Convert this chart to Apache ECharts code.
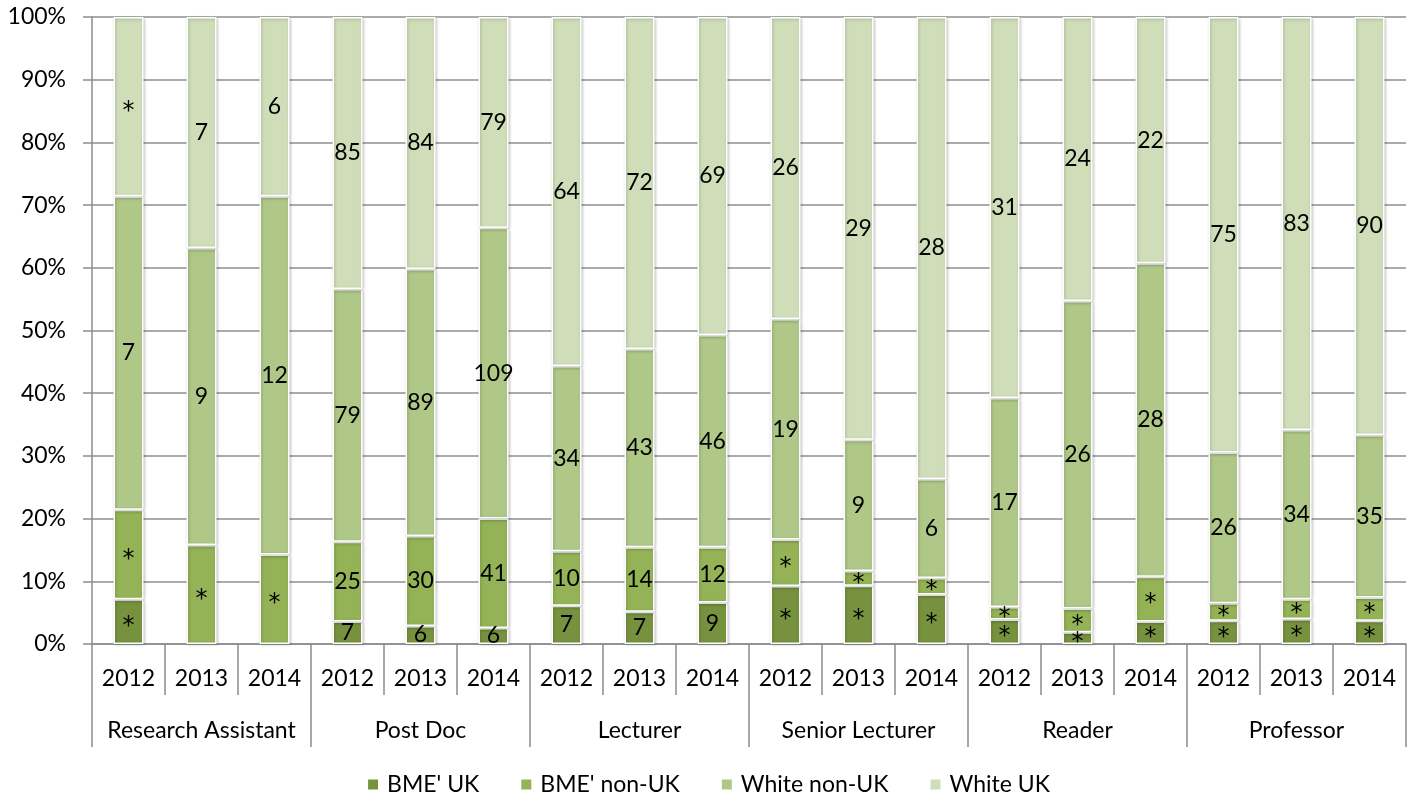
<!DOCTYPE html>
<html>
<head>
<meta charset="utf-8">
<script src="https://cdn.jsdelivr.net/npm/echarts@6/dist/echarts.min.js"></script>
<style>
  html, body { margin: 0; padding: 0; background: #fff; }
  #chart { width: 1416px; height: 800px; }
</style>
</head>
<body>
<div id="chart"></div>
<script>
// Staff headcounts by grade and year, split by ethnicity and nationality
const groups = ['Research Assistant', 'Post Doc', 'Lecturer', 'Senior Lecturer', 'Reader', 'Professor'];
const years = ['2012', '2013', '2014'];
const seriesNames = ["BME' UK", "BME' non-UK", 'White non-UK', 'White UK'];
const seriesColors = ['#77923f', '#94b356', '#afc787', '#cfddb8'];

const bmeUK       = [1, 0, 0,   7, 6, 6,     7, 7, 9,    5, 4, 3,    2, 1, 2,    4, 5, 5];
const bmeNonUK    = [2, 3, 3,   25, 30, 41,  10, 14, 12, 4, 1, 1,    1, 2, 4,    3, 4, 5];
const whiteNonUK  = [7, 9, 12,  79, 89, 109, 34, 43, 46, 19, 9, 6,   17, 26, 28, 26, 34, 35];
const whiteUK     = [4, 7, 6,   85, 84, 79,  64, 72, 69, 26, 29, 28, 31, 24, 22, 75, 83, 90];

// Counts below this are suppressed and shown as "*"
const SUPPRESS_BELOW = 6;

const yTicks = [0, 10, 20, 30, 40, 50, 60, 70, 80, 90, 100];

const countSets = [bmeUK, bmeNonUK, whiteNonUK, whiteUK];
const categories = [];
groups.forEach(() => years.forEach(y => categories.push(y)));
const totals = categories.map((_, i) => countSets.reduce((s, arr) => s + arr[i], 0));

const FONT = 'Lato, "Open Sans", sans-serif';
const FS = 23;
const AXIS_GREY = '#8c8c8c';

const series = countSets.map((counts, si) => ({
  name: seriesNames[si],
  type: 'bar',
  stack: 'share',
  xAxisIndex: 0,
  barWidth: 30,
  itemStyle: {
    color: seriesColors[si],
    borderColor: '#ffffff',
    borderWidth: 1.5,
    shadowColor: 'rgba(0,0,0,0.22)',
    shadowBlur: 3,
    shadowOffsetX: 1,
    shadowOffsetY: 1
  },
  label: {
    show: true,
    position: 'inside',
    color: '#000',
    fontFamily: FONT,
    fontSize: FS,
    formatter: p => {
      const c = counts[p.dataIndex];
      if (c === 0) return '';
      return c < SUPPRESS_BELOW ? '{star|*}' : String(c);
    },
    rich: {
      star: { fontFamily: '"DejaVu Sans", sans-serif', fontSize: 24, color: '#000', padding: [10, 0, 0, 0] }
    }
  },
  data: counts.map((c, i) => (c === 0 ? null : c / totals[i] * 100))
}));

const chart = echarts.init(document.getElementById('chart'), null, { renderer: 'canvas' });
chart.setOption({
  animation: false,
  textStyle: { fontFamily: FONT },
  grid: { left: 92, right: 10, top: 17, bottom: 156 },
  legend: {
    bottom: 4,
    left: 'center',
    padding: 0,
    itemWidth: 12,
    itemHeight: 12,
    itemGap: 40,
    icon: 'rect',
    textStyle: { fontFamily: FONT, fontSize: FS, color: '#000', padding: [0, 0, 0, 3] },
    data: seriesNames
  },
  xAxis: [
    {
      type: 'category',
      data: categories,
      position: 'bottom',
      axisLine: { show: true, lineStyle: { color: AXIS_GREY, width: 1.5 } },
      axisTick: { show: true, interval: 0, length: 51, lineStyle: { color: AXIS_GREY, width: 1.5 } },
      axisLabel: { interval: 0, margin: 23, color: '#000', fontSize: FS, fontFamily: FONT },
      splitLine: { show: false }
    },
    {
      type: 'category',
      data: groups,
      position: 'bottom',
      axisLine: { show: false },
      axisTick: { show: true, interval: 0, length: 103, lineStyle: { color: AXIS_GREY, width: 1.5 } },
      axisLabel: { interval: 0, margin: 75, color: '#000', fontSize: FS, fontFamily: FONT },
      splitLine: { show: false }
    }
  ],
  yAxis: {
    type: 'value',
    min: yTicks[0],
    max: yTicks[yTicks.length - 1],
    interval: 10,
    axisLine: { show: true, lineStyle: { color: AXIS_GREY, width: 1.5 } },
    axisTick: { show: true, length: 9, lineStyle: { color: AXIS_GREY, width: 1.5 } },
    axisLabel: { formatter: '{value}%', margin: 26, color: '#000', fontSize: FS, fontFamily: FONT },
    splitLine: { show: true, lineStyle: { color: '#8f8f8f', width: 1.5 } }
  },
  series: series
});
</script>
</body>
</html>
